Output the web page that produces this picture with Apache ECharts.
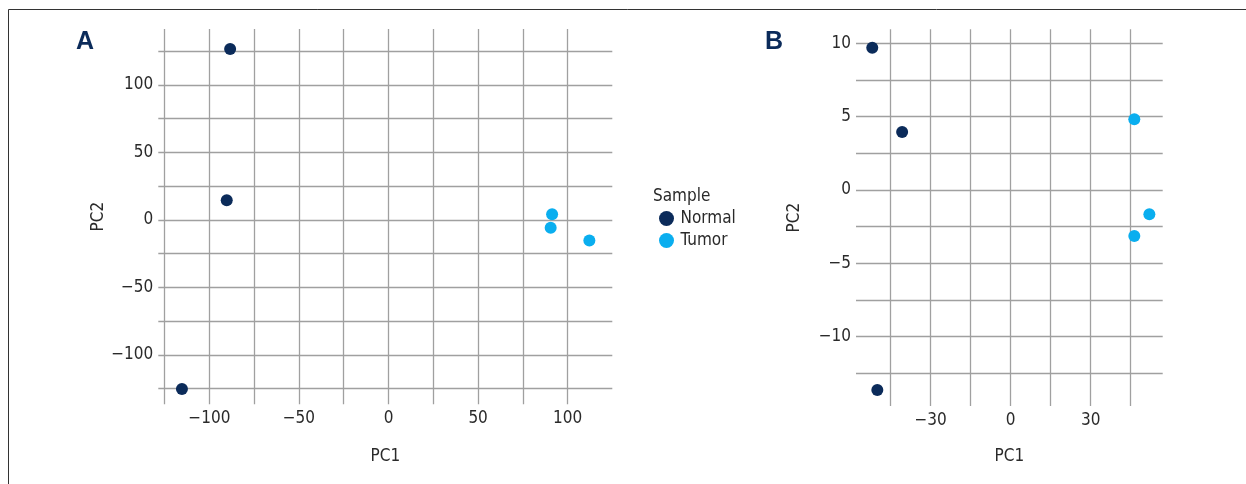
<!DOCTYPE html>
<html>
<head>
<meta charset="utf-8">
<script src="https://cdn.jsdelivr.net/npm/echarts@6/dist/echarts.min.js"></script>
<style>
  html, body { margin: 0; padding: 0; background: #fff; }
  #chart { width: 1246px; height: 484px; }
</style>
</head>
<body>
<div id="chart"></div>
<script>
// PCA scores per sample group, [PC1, PC2]
const groups = ['Normal', 'Tumor'];
const groupColors = ['#0b2b5a', '#0aaeef'];

// Panel A
const panelANormal = [[-88.4, 126.4], [-90.3, 14.4], [-115.3, -125.4]];
const panelATumor = [[91.3, 4.0], [90.5, -5.9], [112.1, -15.3]];
// Panel B
const panelBNormal = [[-51.9, 9.7], [-40.7, 3.95], [-50.0, -13.64]];
const panelBTumor = [[46.35, 4.82], [52.0, -1.66], [46.35, -3.14]];

// Grid lines and tick labels
const panelAXLines = [-125, -100, -75, -50, -25, 0, 25, 50, 75, 100];
const panelAXLabels = [-100, -50, 0, 50, 100];
const panelAYLines = [-125, -100, -75, -50, -25, 0, 25, 50, 75, 100, 125];
const panelAYLabels = [-100, -50, 0, 50, 100];
const panelBXLines = [-45, -30, -15, 0, 15, 30, 45];
const panelBXLabels = [-30, 0, 30];
const panelBYLines = [-12.5, -10, -7.5, -5, -2.5, 0, 2.5, 5, 7.5, 10];
const panelBYLabels = [-10, -5, 0, 5, 10];

const FONT = "'Liberation Sans Narrow', 'DejaVu Sans Condensed', 'Liberation Sans', sans-serif";
const TEXT = '#2a2a2a';
const GRID_LINE = '#a0a0a0';

const fmt = v => (v < 0 ? '\u2212' + Math.abs(v) : String(v));

function xAxisFor(gridIndex, min, max, lines, labels, nameGap) {
  return {
    type: 'value', gridIndex, min, max,
    name: 'PC1', nameLocation: 'middle', nameGap,
    nameTextStyle: { color: TEXT, fontSize: 17, fontFamily: FONT },
    axisLine: { show: false },
    axisTick: { show: false, customValues: lines },
    axisLabel: { customValues: labels, formatter: fmt, color: TEXT, fontSize: 17, fontFamily: FONT, margin: 6 },
    splitLine: { show: true, lineStyle: { color: GRID_LINE, width: 1.3 } }
  };
}
function yAxisFor(gridIndex, min, max, lines, labels, nameGap) {
  return {
    type: 'value', gridIndex, min, max,
    name: 'PC2', nameLocation: 'middle', nameGap,
    nameTextStyle: { color: TEXT, fontSize: 17, fontFamily: FONT },
    axisLine: { show: false },
    axisTick: { show: false, customValues: lines },
    axisLabel: { customValues: labels, formatter: fmt, color: TEXT, fontSize: 17, fontFamily: FONT, margin: 5 },
    splitLine: { show: true, lineStyle: { color: GRID_LINE, width: 1.3 } }
  };
}
function scatter(name, data, colorIdx, axisIdx) {
  return {
    type: 'scatter', name, data,
    xAxisIndex: axisIdx, yAxisIndex: axisIdx,
    symbol: 'circle', symbolSize: 12,
    itemStyle: { color: groupColors[colorIdx], opacity: 1 },
    silent: true
  };
}

const chart = echarts.init(document.getElementById('chart'), null, { renderer: 'canvas' });
chart.setOption({
  animation: false,
  backgroundColor: '#fff',
  grid: [
    { left: 158.3, top: 29, width: 454, height: 375.3, containLabel: false },
    { left: 856, top: 29.3, width: 306.7, height: 376.7, containLabel: false }
  ],
  xAxis: [
    xAxisFor(0, -128.5, 124.9, panelAXLines, panelAXLabels, 44),
    xAxisFor(1, -58, 57, panelBXLines, panelBXLabels, 42)
  ],
  yAxis: [
    yAxisFor(0, -136.7, 141.3, panelAYLines, panelAYLabels, 45),
    yAxisFor(1, -14.73, 10.96, panelBYLines, panelBYLabels, 53)
  ],
  legend: {
    data: groups,
    orient: 'vertical',
    left: 654, top: 205,
    icon: 'circle',
    itemWidth: 18, itemHeight: 15, itemGap: 5,
    selectedMode: false,
    textStyle: { color: TEXT, fontSize: 17, fontFamily: FONT, lineHeight: 15, padding: [0, 0, 0, 0] }
  },
  graphic: [
    { type: 'line', shape: { x1: 8.5, y1: 9.5, x2: 1246, y2: 9.5 }, style: { stroke: '#333', lineWidth: 1 } },
    { type: 'line', shape: { x1: 8.5, y1: 9.5, x2: 8.5, y2: 484 }, style: { stroke: '#333', lineWidth: 1 } },
    { type: 'text', x: 76, y: 42.5, style: { text: 'A', fill: '#0b2b5a', font: "bold 25px 'Liberation Sans', sans-serif", textVerticalAlign: 'middle' } },
    { type: 'text', x: 765, y: 42.5, style: { text: 'B', fill: '#0b2b5a', font: "bold 25px 'Liberation Sans', sans-serif", textVerticalAlign: 'middle' } },
    { type: 'text', x: 653, y: 197, style: { text: 'Sample', fill: TEXT, font: "17px " + FONT, textVerticalAlign: 'middle' } }
  ],
  series: [
    scatter(groups[0], panelANormal, 0, 0),
    scatter(groups[1], panelATumor, 1, 0),
    scatter(groups[0], panelBNormal, 0, 1),
    scatter(groups[1], panelBTumor, 1, 1)
  ]
});
</script>
</body>
</html>
